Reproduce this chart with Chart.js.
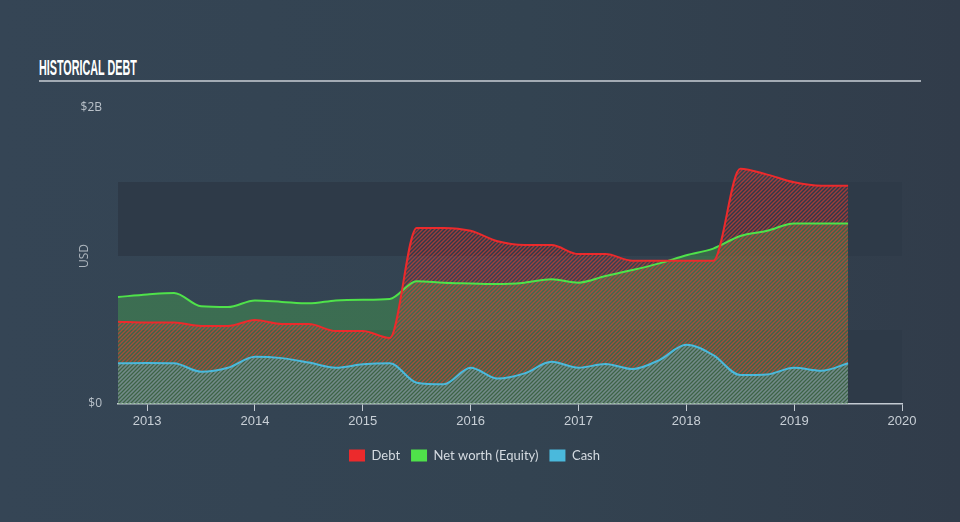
<!DOCTYPE html>
<html>
<head>
<meta charset="utf-8">
<script src="https://cdn.jsdelivr.net/npm/chart.js@4"></script>
<style>
  html, body { margin: 0; padding: 0; }
  body {
    width: 960px; height: 522px; overflow: hidden; position: relative;
    background: linear-gradient(90deg, #354555 0%, #334351 55%, #313c4a 100%);
  }
  #title {
    position: absolute; left: 39px; top: 55px;
    font: bold 22px "Liberation Sans Narrow", sans-serif;
    color: #ffffff; letter-spacing: 0;
    transform: scaleX(0.49); transform-origin: left top;
    white-space: nowrap;
  }
  #rule {
    position: absolute; left: 39px; top: 80px; width: 882px; height: 2px;
    background: #a3abb4;
  }
  #wrap { position: absolute; left: 0; top: 0; width: 960px; height: 522px; }
</style>
</head>
<body>
<div id="title">HISTORICAL DEBT</div>
<div id="rule"></div>
<div id="wrap"><canvas id="chart"></canvas></div>
<script>
// report dates (decimal years)
var dates = [2012.73, 2013.0, 2013.25, 2013.5, 2013.75, 2014.0, 2014.25, 2014.5, 2014.75,
             2015.0, 2015.25, 2015.5, 2015.75, 2016.0, 2016.25, 2016.5, 2016.75,
             2017.0, 2017.25, 2017.5, 2017.75, 2018.0, 2018.25, 2018.5, 2018.75,
             2019.0, 2019.25, 2019.5]

// values in USD billions
var debt   = [0.556, 0.55, 0.55, 0.527, 0.527, 0.567, 0.54, 0.54, 0.493,
              0.493, 0.446, 1.19, 1.19, 1.17, 1.10, 1.075, 1.074,
              1.013, 1.013, 0.968, 0.968, 0.968, 0.968, 1.59, 1.55,
              1.498, 1.475, 1.475]
var equity = [0.723, 0.74, 0.75, 0.66, 0.655, 0.70, 0.69, 0.68, 0.70,
              0.705, 0.71, 0.83, 0.82, 0.815, 0.81, 0.82, 0.843,
              0.82, 0.865, 0.905, 0.95, 1.005, 1.05, 1.135, 1.17,
              1.22, 1.22, 1.22]
var cash   = [0.275, 0.277, 0.275, 0.218, 0.245, 0.32, 0.31, 0.28, 0.245,
              0.268, 0.275, 0.144, 0.133, 0.245, 0.172, 0.207, 0.285,
              0.245, 0.27, 0.236, 0.297, 0.40, 0.33, 0.196, 0.2,
              0.245, 0.225, 0.275]

var xTicks  = [2013, 2014, 2015, 2016, 2017, 2018, 2019, 2020]
var yTicks  = [0, 2]
var yLabels = ['$0', '$2B']
var bands   = [[0, 0.5], [1, 1.5]]

function hatch(color, width) {
  var c = document.createElement('canvas')
  c.width = 4; c.height = 4
  var g = c.getContext('2d')
  g.strokeStyle = color
  g.lineWidth = width
  g.beginPath()
  g.moveTo(0, 4); g.lineTo(4, 0)
  g.moveTo(-1, 1); g.lineTo(1, -1)
  g.moveTo(3, 5); g.lineTo(5, 3)
  g.stroke()
  return g.createPattern(c, 'repeat')
}

function pts(values) {
  return values.map(function (v, i) { return { x: dates[i], y: v } })
}

// alternating background bands, drawn first
var bandPlugin = {
  id: 'bands',
  beforeDraw: function (chart) {
    var ctx = chart.ctx, a = chart.chartArea, y = chart.scales.y
    ctx.save()
    ctx.fillStyle = '#2e3a48'
    bands.forEach(function (b) {
      var top = y.getPixelForValue(b[1]), bot = y.getPixelForValue(b[0])
      ctx.fillRect(a.left, top, a.right - a.left, bot - top)
    })
    ctx.restore()
  }
}

var font = "'Open Sans', sans-serif"

new Chart(document.getElementById('chart'), {
  type: 'line',
  data: {
    datasets: [{
      label: 'Debt',
      data: pts(debt),
      borderColor: '#ec2a2c',
      backgroundColor: hatch('rgba(235, 60, 50, 0.6)', 1.4),
      fill: 'origin',
      order: 1
    }, {
      label: 'Net worth (Equity)',
      data: pts(equity),
      borderColor: '#4fe24a',
      backgroundColor: 'rgba(80, 205, 80, 0.3)',
      fill: 'origin',
      order: 2
    }, {
      label: 'Cash',
      data: pts(cash),
      borderColor: '#4ab9dc',
      backgroundColor: hatch('rgba(75, 185, 195, 0.6)', 1.5),
      fill: 'origin',
      order: 0
    }]
  },
  options: {
    responsive: true,
    maintainAspectRatio: false,
    animation: false,
    layout: { padding: { left: 47, right: 58, top: 108, bottom: 50 } },
    elements: {
      line: { borderWidth: 2, cubicInterpolationMode: 'monotone' },
      point: { radius: 0, hitRadius: 6 }
    },
    plugins: {
      filler: { drawTime: 'beforeDatasetsDraw' },
      tooltip: { enabled: false },
      legend: {
        position: 'bottom',
        labels: {
          boxWidth: 16,
          boxHeight: 12,
          padding: 11,
          color: '#d5dbe1',
          font: { family: 'Lato, sans-serif', size: 13 },
          generateLabels: function (chart) {
            return chart.data.datasets.map(function (ds, i) {
              return { text: ds.label, fillStyle: ds.borderColor, strokeStyle: ds.borderColor,
                       lineWidth: 0, datasetIndex: i, fontColor: '#d5dbe1' }
            })
          }
        }
      }
    },
    scales: {
      x: {
        type: 'linear',
        min: 2012.73,
        max: 2020,
        afterBuildTicks: function (s) { s.ticks = xTicks.map(function (v) { return { value: v } }) },
        afterFit: function (s) { s.height = 34 },
        grid: { drawOnChartArea: false, drawTicks: true, tickLength: 7, color: '#c3cad2', lineWidth: 1 },
        border: { display: true, color: '#c3cad2', width: 1.5 },
        ticks: {
          padding: 3,
          maxRotation: 0,
          color: '#c8cfd6',
          font: { family: "'Liberation Sans Narrow', sans-serif", size: 13 },
          callback: function (v) { return String(v) }
        }
      },
      y: {
        min: 0,
        max: 2,
        afterBuildTicks: function (s) { s.ticks = yTicks.map(function (v) { return { value: v } }) },
        afterFit: function (s) { s.width = 71 },
        grid: { display: false, drawTicks: false },
        border: { display: false },
        title: {
          display: true,
          text: 'USD',
          color: '#aeb6be',
          padding: { top: 30, bottom: 0 },
          font: { family: font, size: 12 }
        },
        ticks: {
          padding: 16,
          color: '#b9c1c9',
          font: { family: font, size: 12 },
          callback: function (v) { return yLabels[yTicks.indexOf(v)] }
        }
      }
    }
  },
  plugins: [bandPlugin]
})
</script>
</body>
</html>
